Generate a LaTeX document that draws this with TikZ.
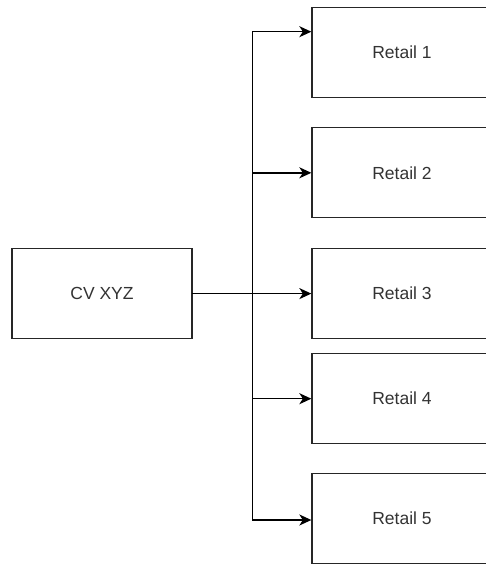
\documentclass[tikz,border=0pt]{standalone}
\usepackage{fontspec}
\setmainfont{Liberation Sans}
\usetikzlibrary{arrows.meta}
\begin{document}
\begin{tikzpicture}[x=1pt,y=-1pt,
  unit/.style={draw=black!85, line width=1.3pt, minimum width=180pt, minimum height=90pt,
    inner sep=0pt, text=black!80, font=\fontsize{17.5}{20}\selectfont},
  link/.style={draw=black, line width=1.4pt, line cap=rect},
  feed/.style={link, -{Stealth[length=12pt,width=11pt,inset=3.5pt]}}]
  \useasboundingbox (0,0) rectangle (485,565);

  % source and outlets
  \node[unit] (cv) at (102,293.6) {CV XYZ};
  \node[unit] (r1) at (402,52.5)  {Retail 1};
  \node[unit] (r2) at (402,172.8) {Retail 2};
  \node[unit] (r3) at (402,293.6) {Retail 3};
  \node[unit] (r4) at (402,398.7) {Retail 4};
  \node[unit] (r5) at (402,518.7) {Retail 5};

  % distribution trunk
  \coordinate (ttop) at (252.5,31.7);
  \coordinate (tbot) at (252.5,520);
  \draw[link] (ttop) -- (tbot);

  % feeds to each outlet
  \draw[feed] (cv.east) -- (r3.west);
  \draw[feed] (ttop) -- (ttop -| r1.west);
  \draw[feed] (r2.west -| ttop) -- (r2.west);
  \draw[feed] (r4.west -| ttop) -- (r4.west);
  \draw[feed] (tbot) -- (tbot -| r5.west);
\end{tikzpicture}
\end{document}
